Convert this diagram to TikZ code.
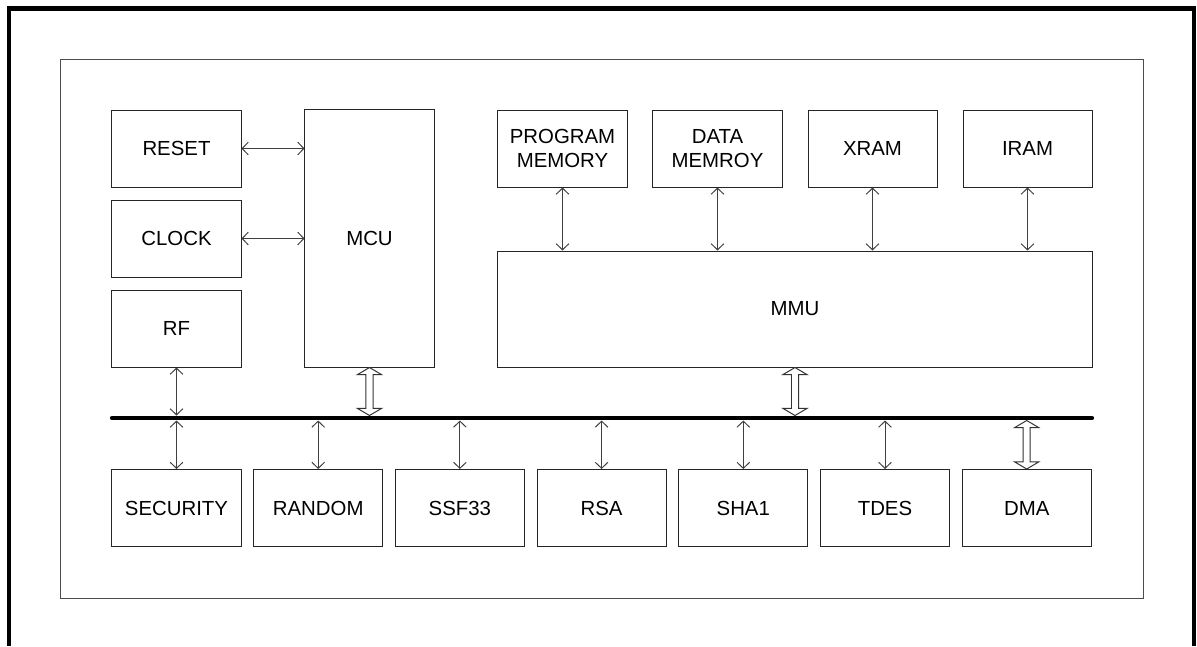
\documentclass[tikz,border=0pt]{standalone}
\usepackage{fontspec}
\setmainfont{Liberation Sans}
\usetikzlibrary{arrows.meta,calc}

\begin{document}
\begin{tikzpicture}[x=0.025cm,y=-0.025cm]
\tikzset{block/.style={draw=black!85, line width=0.7pt, inner sep=0pt, minimum width=3.225cm, minimum height=1.925cm, align=center, font=\fontsize{14.5}{17}\selectfont},
  link/.style={draw=black!75, line width=0.7pt, {Straight Barb[length=4.3pt,width=9pt]}-{Straight Barb[length=4.3pt,width=9pt]}},
  wide/.style={draw=black!80, line width=0.7pt, fill=white,
    to path={let \p1=(\tikztostart), \p2=(\tikztotarget) in
      (\x1,\y1) -- (\x1+8.5pt,\y1-5pt) -- (\x1+2.5pt,\y1-5pt) -- (\x2+2.5pt,\y2+5pt) -- (\x2+8.5pt,\y2+5pt) -- (\x2,\y2)
      -- (\x2-8.5pt,\y2+5pt) -- (\x2-2.5pt,\y2+5pt) -- (\x1-2.5pt,\y1-5pt) -- (\x1-8.5pt,\y1-5pt) -- cycle}},
  bus/.style={line width=3pt, line cap=round}}
    \useasboundingbox (0,0) rectangle (1197,646);
    \draw[line width=3.2pt] (9.2,646) -- (9.2,8.3) -- (1194.2,8.3) -- (1194.2,646);
    \draw[draw=black!70, line width=0.7pt] (60.5,59.5) rectangle (1143,598);

    \node[block] at (176.5,148.5) (reset) {RESET};
    \node[block] at (176.5,238.5) (clock) {CLOCK};
    \node[block] at (176.5,328.5) (rf) {RF};
    \node[block, minimum height=6.425cm] at (369.5,238.5) (mcu) {MCU};

    \node[block] at (562.5,148.5) (prog) {PROGRAM\\MEMORY};
    \node[block] at (717.5,148.5) (data) {DATA\\MEMROY};
    \node[block] at (872.5,148.5) (xram) {XRAM};
    \node[block] at (1027.5,148.5) (iram) {IRAM};
    \node[block, minimum width=14.85cm, minimum height=2.9cm] at (795,309) (mmu) {MMU};

    \node[block] at (176.5,508) (security) {SECURITY};
    \node[block] at (318.2,508) (random) {RANDOM};
    \node[block] at (459.9,508) (ssf) {SSF33};
    \node[block] at (601.6,508) (rsa) {RSA};
    \node[block] at (743.3,508) (sha) {SHA1};
    \node[block] at (885,508) (tdes) {TDES};
    \node[block] at (1026.7,508) (dma) {DMA};

    \coordinate (busL) at (112,418);
    \coordinate (busR) at (1092,418);
    \coordinate (bustop) at (112,415.5);
    \coordinate (busbot) at (112,420.5);

    \draw[link] (reset) -- (reset -| mcu.west);
    \draw[link] (clock) -- (clock -| mcu.west);
    \foreach \n in {prog,data,xram,iram}
        \draw[link] (\n) -- (\n |- mmu.north);
    \draw[link] (rf) -- (rf |- bustop);
    \foreach \n in {security,random,ssf,rsa,sha,tdes}
        \draw[link] (\n) -- (\n |- busbot);
    \draw[wide] (mcu.south) to (mcu.south |- bustop);
    \draw[wide] (mmu.south) to (mmu.south |- bustop);
    \draw[wide] (dma.north |- busbot) to (dma.north);

    \draw[bus] (busL) -- (busR);
  \end{tikzpicture}
\end{document}
